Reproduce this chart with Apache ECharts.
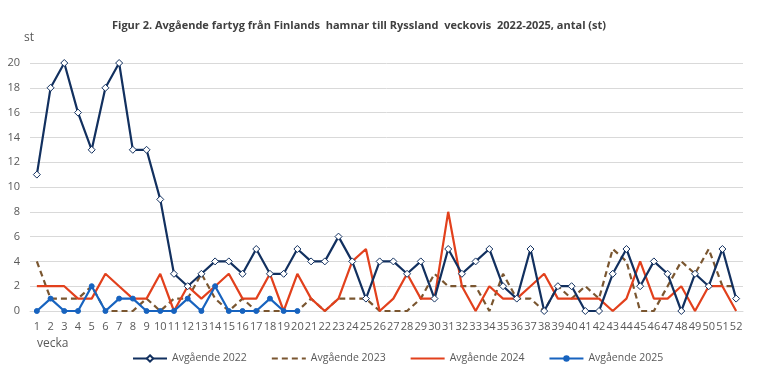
<!DOCTYPE html>
<html>
<head>
<meta charset="utf-8">
<script src="https://cdn.jsdelivr.net/npm/echarts@6/dist/echarts.min.js"></script>
<style>html,body{margin:0;padding:0;background:#fff}#c{width:757px;height:378px}</style>
</head>
<body>
<div id="c"></div>
<script>
var weeks = [];
for (var w = 1; w <= 52; w++) weeks.push(String(w));
var yTicks = [0, 2, 4, 6, 8, 10, 12, 14, 16, 18, 20];
var data2022 = [11,18,20,16,13,18,20,13,13,9,3,2,3,4,4,3,5,3,3,5,4,4,6,4,1,4,4,3,4,1,5,3,4,5,2,1,5,0,2,2,0,0,3,5,2,4,3,0,3,2,5,1];
var data2023 = [4,1,1,1,2,0,0,0,1,0,1,1,3,1,0,1,0,0,0,0,1,0,1,1,1,0,0,0,1,3,2,2,2,0,3,1,1,0,2,1,2,1,5,4,0,0,2,4,3,5,2,2];
var data2024 = [2,2,2,1,1,3,2,1,1,3,0,2,1,2,3,1,1,3,0,3,1,0,1,4,5,0,1,3,1,1,8,2,0,2,1,1,2,3,1,1,1,1,0,1,4,1,1,2,0,2,2,0];
var data2025 = [0,1,0,0,2,0,1,1,0,0,0,1,0,2,0,0,0,1,0,0];
var seriesNames = ['Avgående 2022','Avgående 2023','Avgående 2024','Avgående 2025'];
var titleText = 'Figur 2. Avgående fartyg från Finlands  hamnar till Ryssland  veckovis  2022-2025, antal (st)';

var FONT = "'Open Sans', 'Liberation Sans', sans-serif";
var chart = echarts.init(document.getElementById('c'), null, {renderer: 'canvas'});
chart.setOption({
  animation: false,
  textStyle: {fontFamily: FONT},
  title: {
    text: titleText,
    left: 107, top: 15,
    textStyle: {fontFamily: FONT, fontSize: 11, fontWeight: 'bold', color: '#404040'}
  },
  graphic: [
    {type: 'text', left: 24, top: 32, style: {text: 'st', font: "12px 'Open Sans', sans-serif", fill: '#595959'}},
    {type: 'text', left: 37, top: 338, style: {text: 'vecka', font: "12px 'Open Sans', sans-serif", fill: '#595959'}}
  ],
  legend: {
    left: 127, top: 348,
    itemWidth: 34, itemHeight: 8, itemGap: 24,
    textStyle: {fontSize: 10.5, color: '#595959', fontFamily: FONT},
    data: [
      {name: seriesNames[0]},
      {name: seriesNames[1], itemStyle: {opacity: 0}},
      {name: seriesNames[2], itemStyle: {opacity: 0}},
      {name: seriesNames[3]}
    ]
  },
  grid: {left: 30, right: 14, top: 63, bottom: 67, containLabel: false},
  xAxis: {
    type: 'category', data: weeks, boundaryGap: true,
    axisLine: {lineStyle: {color: '#d9d9d9', width: 1}},
    axisTick: {show: false},
    axisLabel: {interval: 0, color: '#595959', fontSize: 11, margin: 10, fontFamily: FONT}
  },
  yAxis: {
    type: 'value', min: 0, max: 20, interval: 2,
    axisLine: {show: false}, axisTick: {show: false},
    splitLine: {lineStyle: {color: '#d9d9d9', width: 1}},
    axisLabel: {color: '#595959', fontSize: 11, margin: 10, fontFamily: FONT,
      formatter: function (v) { return yTicks.indexOf(v) >= 0 ? String(v) : ''; }}
  },
  series: [
    {name: seriesNames[0], type: 'line', data: data2022, z: 4,
     symbol: 'diamond', symbolSize: 7, showAllSymbol: true,
     lineStyle: {color: '#12305f', width: 2.2},
     itemStyle: {color: '#ffffff', borderColor: '#12305f', borderWidth: 1}},
    {name: seriesNames[1], type: 'line', data: data2023, z: 2,
     symbol: 'none',
     lineStyle: {color: '#7a5630', width: 2.2, type: [6, 4]},
     itemStyle: {color: '#7a5630'}},
    {name: seriesNames[2], type: 'line', data: data2024, z: 3,
     symbol: 'none',
     lineStyle: {color: '#e2401c', width: 2.2},
     itemStyle: {color: '#e2401c'}},
    {name: seriesNames[3], type: 'line', data: data2025, z: 5,
     symbol: 'circle', symbolSize: 5, showAllSymbol: true,
     lineStyle: {color: '#1763bf', width: 2.2},
     itemStyle: {color: '#1763bf', borderColor: '#1763bf'}}
  ]
});
</script>
</body>
</html>
